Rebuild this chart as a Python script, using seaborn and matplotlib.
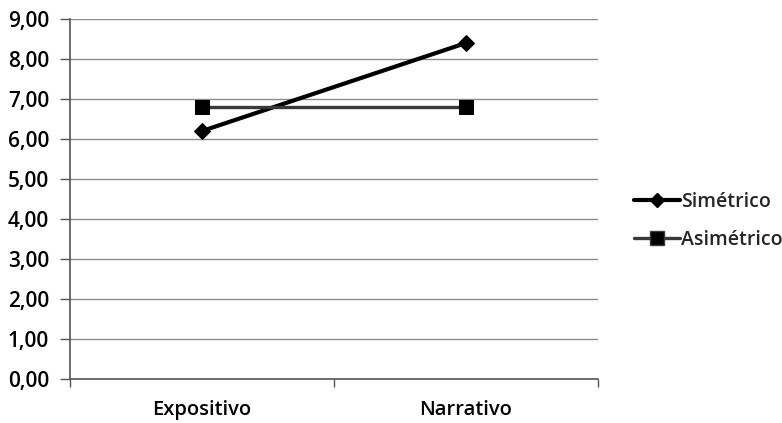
import matplotlib
matplotlib.use("Agg")
import matplotlib.pyplot as plt
import seaborn as sns
import pandas as pd
from matplotlib.ticker import FixedLocator, FuncFormatter
from matplotlib.lines import Line2D

categories = ["Expositivo", "Narrativo"]
simetrico = [6.2, 8.4]
asimetrico = [6.8, 6.8]
series_names = ["Simétrico", "Asimétrico"]

df = pd.DataFrame({
    "texto": categories * 2,
    "valor": simetrico + asimetrico,
    "grupo": [series_names[0]] * 2 + [series_names[1]] * 2,
})

sns.set_theme(style="white")
plt.rcParams["font.family"] = ["Open Sans", "DejaVu Sans"]
plt.rcParams["font.weight"] = 600

fig = plt.figure(figsize=(7.82, 4.23), dpi=100)
ax = fig.add_axes([70 / 782, 44 / 423, 528 / 782, 360 / 423])

styles = {
    "Simétrico": dict(color="black", lw=3.0, marker="D", ms=8.5),
    "Asimétrico": dict(color="#3a3a3a", lw=2.4, marker="s", ms=10.5),
}
for name in series_names:
    sub = df[df["grupo"] == name]
    st = styles[name]
    sns.lineplot(data=sub, x="texto", y="valor", ax=ax, color=st["color"],
                 lw=st["lw"], marker=st["marker"], markersize=st["ms"],
                 markerfacecolor="black", markeredgecolor="black", legend=False)

ax.set_xlim(-0.5, 1.5)
ax.set_ylim(0, 9)
ax.set_yticks([i for i in range(10)])
ax.yaxis.set_major_formatter(FuncFormatter(lambda v, p: f"{v:.2f}".replace(".", ",")))
ax.grid(axis="y", color="#8c8c8c", lw=1.0)
ax.set_axisbelow(True)

ax.set_xticks([0, 1])
ax.set_xticklabels(categories)
ax.xaxis.set_minor_locator(FixedLocator([-0.5, 0.5, 1.5]))
ax.tick_params(axis="x", which="major", length=0, pad=15, labelsize=14.5, colors="black")
ax.tick_params(axis="x", which="minor", length=6, width=1, color="#555555", direction="out", bottom=True)
ax.tick_params(axis="y", length=7, width=1, color="#555555", direction="out", left=True,
               labelsize=15, pad=8, colors="black")
ax.set_xlabel("")
ax.set_ylabel("")

for s in ["top", "right"]:
    ax.spines[s].set_visible(False)
for s in ["left", "bottom"]:
    ax.spines[s].set_color("#555555")
    ax.spines[s].set_linewidth(1.2)

handles = [
    Line2D([], [], color="black", lw=3.0, marker="D", ms=7, markerfacecolor="black"),
    Line2D([], [], color="#3a3a3a", lw=2.4, marker="s", ms=9.5, markerfacecolor="black"),
]
fig.legend(handles, series_names, loc="center left", bbox_to_anchor=(624 / 782, 1 - 221 / 423),
           frameon=False, fontsize=14, handlelength=2.4, handletextpad=0.05, labelspacing=0.9,
           borderpad=0)

fig.savefig("out.png", dpi=100, facecolor="white")
